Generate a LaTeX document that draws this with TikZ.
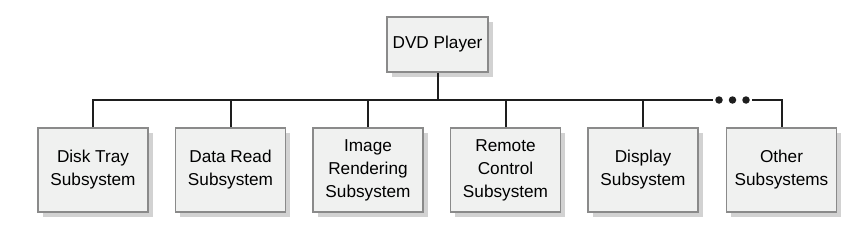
\documentclass[tikz,border=0pt]{standalone}
\usepackage{fontspec}
\setmainfont{Liberation Sans}
\usetikzlibrary{shadows}
\definecolor{boxfill}{HTML}{F0F1F0}
\definecolor{boxborder}{HTML}{8A8A8A}
\definecolor{shadowgray}{HTML}{D2D2D2}
\definecolor{linecol}{HTML}{1E1E1E}
\tikzset{
  box/.style={draw=boxborder, line width=1.6pt, fill=boxfill, align=center,
    inner sep=0pt, font=\fontsize{17.2}{23}\selectfont,
    drop shadow={shadow xshift=4.5pt, shadow yshift=-4.5pt, fill=shadowgray, opacity=1, draw=none}},
  sub/.style={box, minimum width=110pt, minimum height=84pt},
  top/.style={box, minimum width=101pt, minimum height=55pt},
  conn/.style={draw=linecol, line width=2pt},
  dotn/.style={circle, fill=linecol, inner sep=0pt, minimum size=7.5pt}
}
\begin{document}
\begin{tikzpicture}[x=1pt,y=1pt]
\useasboundingbox (0,0) rectangle (861,-233);
\node[top] (dvd) at (437.5,-44.5) {DVD Player};
\node[sub] (b1) at (93,-170) {Disk Tray\\Subsystem};
\node[sub] (b2) at (230.5,-170) {Data Read\\Subsystem};
\node[sub] (b3) at (368,-170) {Image\\Rendering\\Subsystem};
\node[sub] (b4) at (505.5,-170) {Remote\\Control\\Subsystem};
\node[sub] (b5) at (643,-170) {Display\\Subsystem};
\node[sub] (b6) at (781.5,-170) {Other\\Subsystems};
\coordinate (dotL) at (713,-100);
\coordinate (dotR) at (752,-100);
\node[dotn] (d1) at (719,-100) {};
\node[dotn] (d2) at (732.5,-100) {};
\node[dotn] (d3) at (746,-100) {};
\draw[conn] (b1.north) |- (dotL);
\draw[conn] (dotR) -| (b6.north);
\draw[conn] (dvd.south) -- (dvd.south |- dotL);
\foreach \b in {b2,b3,b4,b5} \draw[conn] (\b.north) -- (\b.north |- dotL);
\end{tikzpicture}
\end{document}
